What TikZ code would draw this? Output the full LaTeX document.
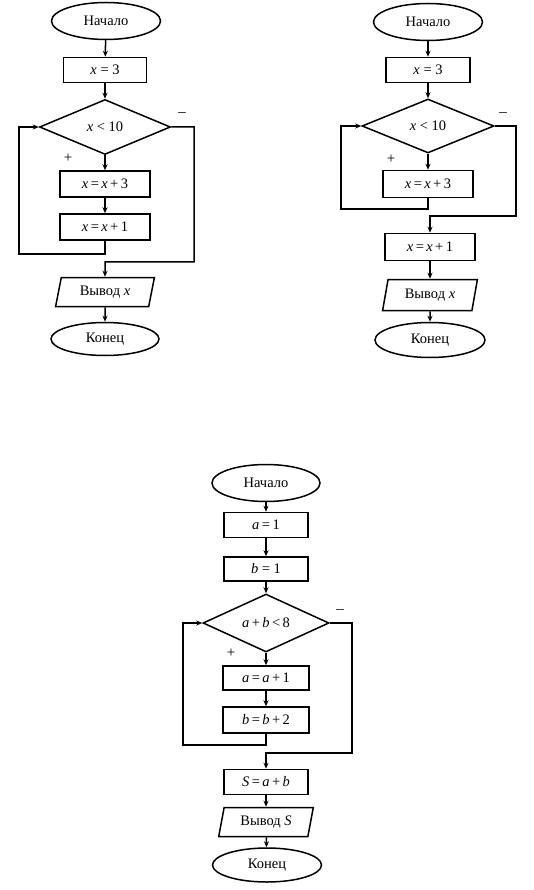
\documentclass[tikz,border=0pt]{standalone}
\usepackage{fontspec}
\setmainfont{Liberation Serif}
\usetikzlibrary{shapes.geometric,arrows.meta}
\tikzset{
  base/.style={draw, line width=1.5pt, inner sep=0pt, font=\fontsize{14.5}{16}\selectfont},
  term/.style={base, ellipse},
  proc/.style={base, rectangle},
  dec/.style={base, diamond},
  io/.style={base, trapezium, trapezium stretches=true, trapezium left angle=75, trapezium right angle=105},
  flow/.style={line width=1.5pt, -{Stealth[length=6pt,width=5pt]}},
  sign/.style={font=\fontsize{15}{17}\selectfont, inner sep=0pt}
}
\newcommand{\xv}{\textit{x}}
\begin{document}
\begin{tikzpicture}[x=1pt,y=-1pt]
\useasboundingbox (0,0) rectangle (534,890);
% ---------- Chart 1 ----------
\node[term, minimum width=109pt, minimum height=37pt] (s1) at (106,21) {Начало};
\node[proc, minimum width=83pt, minimum height=25pt] (a1) at (105,70) {\xv{} = 3};
\node[dec, minimum width=131pt, minimum height=55pt] (d1) at (105,127) {\xv{} < 10};
\node[proc, minimum width=90pt, minimum height=26pt] (p1) at (105,184) {\xv\,=\,\xv\,+\,3};
\node[proc, minimum width=90pt, minimum height=26pt] (p2) at (105,227) {\xv\,=\,\xv\,+\,1};
\node[io, minimum width=99pt, minimum height=29pt] (o1) at (105,292) {Вывод \xv};
\node[term, minimum width=108pt, minimum height=33pt] (e1) at (105,339) {Конец};
\coordinate (l1a) at (105,254);
\coordinate (l1b) at (19,254);
\coordinate (l1c) at (19,127);
\coordinate (m1a) at (194,127);
\coordinate (m1b) at (194,262);
\coordinate (m1c) at (105,262);
\draw[flow] (s1) -- (a1);
\draw[flow] (a1) -- (d1);
\draw[flow] (d1) -- (p1);
\draw[flow] (p1) -- (p2);
\draw[flow] (p2.south) -- (l1a) -- (l1b) -- (l1c) -- (d1.west);
\draw[flow] (d1.east) -- (m1a) -- (m1b) -- (m1c) -- (o1.north);
\draw[flow] (o1) -- (e1);
\node[sign] (plus1) at (68,158) {+};
\node[sign] (minus1) at (182,115) {\textendash};
% ---------- Chart 2 ----------
\node[term, minimum width=109pt, minimum height=37pt] (s2) at (428,22) {Начало};
\node[proc, minimum width=84pt, minimum height=25pt] (a2) at (428,70) {\xv{} = 3};
\node[dec, minimum width=132pt, minimum height=54pt] (d2) at (428,126) {\xv{} < 10};
\node[proc, minimum width=90pt, minimum height=27pt] (p3) at (428,184) {\xv\,=\,\xv\,+\,3};
\node[proc, minimum width=90pt, minimum height=27pt] (p4) at (430,247) {\xv\,=\,\xv\,+\,1};
\node[io, minimum width=95pt, minimum height=31pt] (o2) at (430,295) {Вывод \xv};
\node[term, minimum width=110pt, minimum height=35pt] (e2) at (430,340) {Конец};
\coordinate (l2a) at (428,209);
\coordinate (l2b) at (341,209);
\coordinate (l2c) at (341,126);
\coordinate (m2a) at (516,126);
\coordinate (m2b) at (516,216);
\coordinate (m2c) at (430,216);
\draw[flow] (s2) -- (a2);
\draw[flow] (a2) -- (d2);
\draw[flow] (d2) -- (p3);
\draw[flow] (p3.south) -- (l2a) -- (l2b) -- (l2c) -- (d2.west);
\draw[flow] (d2.east) -- (m2a) -- (m2b) -- (m2c) -- (p4.north);
\draw[flow] (p4) -- (o2);
\draw[flow] (o2) -- (e2);
\node[sign] (plus2) at (391,159) {+};
\node[sign] (minus2) at (503,115) {\textendash};
% ---------- Chart 3 ----------
\node[term, minimum width=108pt, minimum height=37pt] (s3) at (266,483) {Начало};
\node[proc, minimum width=84pt, minimum height=25pt] (a3) at (266,525) {\textit{a}\,=\,1};
\node[proc, minimum width=84pt, minimum height=24pt] (b3) at (266,569) {\textit{b} = 1};
\node[dec, minimum width=126pt, minimum height=51pt] (d3) at (266,623) {\textit{a}\,+\,\textit{b}\,<\,8};
\node[proc, minimum width=86pt, minimum height=24pt] (p5) at (266,678) {\textit{a}\,=\,\textit{a}\,+\,1};
\node[proc, minimum width=86pt, minimum height=26pt] (p6) at (266,720) {\textit{b}\,=\,\textit{b}\,+\,2};
\node[proc, minimum width=84pt, minimum height=25pt] (p7) at (266,782) {\textit{S}\,=\,\textit{a}\,+\,\textit{b}};
\node[io, minimum width=95pt, minimum height=29pt] (o3) at (266,822) {Вывод \textit{S}};
\node[term, minimum width=109pt, minimum height=34pt] (e3) at (267,865) {Конец};
\coordinate (l3a) at (266,745);
\coordinate (l3b) at (183,745);
\coordinate (l3c) at (183,623);
\coordinate (m3a) at (352,623);
\coordinate (m3b) at (352,753);
\coordinate (m3c) at (266,753);
\draw[flow] (s3) -- (a3);
\draw[flow] (a3) -- (b3);
\draw[flow] (b3) -- (d3);
\draw[flow] (d3) -- (p5);
\draw[flow] (p5) -- (p6);
\draw[flow] (p6.south) -- (l3a) -- (l3b) -- (l3c) -- (d3.west);
\draw[flow] (d3.east) -- (m3a) -- (m3b) -- (m3c) -- (p7.north);
\draw[flow] (p7) -- (o3);
\draw[flow] (o3) -- (e3);
\node[sign] (plus3) at (231,653) {+};
\node[sign] (minus3) at (340,612) {\textendash};
\end{tikzpicture}
\end{document}
